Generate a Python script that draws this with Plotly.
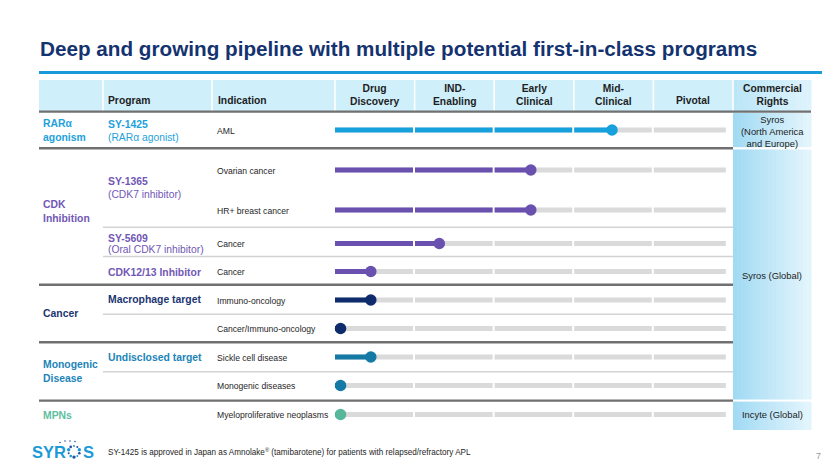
import math
import plotly.graph_objects as go

# ---------------- data ----------------
title = "Deep and growing pipeline with multiple potential first-in-class programs"
header_program = "Program"
header_indication = "Indication"
stage_labels = ["Drug<br>Discovery", "IND-<br>Enabling", "Early<br>Clinical", "Mid-<br>Clinical", "Pivotal"]
header_rights = "Commercial<br>Rights"

group_labels = ["RARα<br>agonism", "CDK<br>Inhibition", "Cancer", "Monogenic<br>Disease", "MPNs"]

program_names = ["SY-1425", "SY-1365", "SY-5609", "CDK12/13 Inhibitor", "Macrophage target", "Undisclosed target"]
program_subtitles = ["(RARα agonist)", "(CDK7 inhibitor)", "(Oral CDK7 inhibitor)", "", "", ""]
program_group = [0, 1, 1, 1, 2, 3]

indications = ["AML", "Ovarian cancer", "HR+ breast cancer", "Cancer", "Cancer",
               "Immuno-oncology", "Cancer/Immuno-oncology", "Sickle cell disease",
               "Monogenic diseases", "Myeloproliferative neoplasms"]
indication_group = [0, 1, 1, 1, 1, 2, 2, 3, 3, 4]
# progress measured in development stages (0 = start of Drug Discovery, 5 = end of Pivotal)
progress = [3.48, 2.46, 2.46, 1.31, 0.45, 0.45, 0.07, 0.45, 0.07, 0.07]

rights = ["Syros<br>(North America<br>and Europe)", "Syros (Global)", "Incyte (Global)"]
footnote = "SY-1425 is approved in Japan as Amnolake<sup>®</sup> (tamibarotene) for patients with relapsed/refractory APL"
page_number = "7"
logo_text = ["SYR", "S"]

# ---------------- styles / layout ----------------
W, H = 830, 467
OFF = 8  # page body margin: the figure is drawn 8px in from the window corner
FONT = "Arial, Liberation Sans, sans-serif"
NAVY = "#14336F"
group_text_colors = ["#1EA1DC", "#7157B6", "#1B3572", "#1C84B8", "#5FBE9F"]
group_bar_colors = ["#16A0DC", "#6B51AF", "#0E2C6B", "#1579A6", "#57B79B"]
TRACK = "#DADADA"

row_y = [130, 170, 210, 243.5, 271.5, 300, 328.5, 357, 385.5, 414.5]
group_y = [130.5, 211, 313, 371.5, 415]
program_name_y = [124, 181.5, 238, 272, 299.5, 357]
program_sub_y = [137, 194.5, 249, None, None, None]
rights_y = [131, 275, 414.5]

STAGE_X0 = 335.0
STAGE_W = 79.6
X2_RANGE = [-0.5, 5.5]
x2_dom = [(STAGE_X0 + X2_RANGE[0] * STAGE_W - OFF) / W, (STAGE_X0 + X2_RANGE[1] * STAGE_W - OFF) / W]

fig = go.Figure()

# ----- progress tracks (gray, segmented by stage) -----
seg_start = [0.0, 1.005, 2.005, 3.005, 4.005]
seg_end = [0.98, 1.98, 2.98, 3.98, 4.91]
tx, ty = [], []
for y in row_y:
    for a, b in zip(seg_start, seg_end):
        tx += [a, b, None]
        ty += [y, y, None]
fig.add_trace(go.Scatter(x=tx, y=ty, xaxis="x2", yaxis="y", mode="lines",
                         line=dict(color=TRACK, width=5), hoverinfo="skip",
                         showlegend=False, cliponaxis=False))

# ----- coloured progress -----
for i, (y, v) in enumerate(zip(row_y, progress)):
    cx, cy = [], []
    for a, b in zip(seg_start, seg_end):
        e = min(b, v)
        if e > a:
            cx += [a, e, None]
            cy += [y, y, None]
    col = group_bar_colors[indication_group[i]]
    if cx:
        fig.add_trace(go.Scatter(x=cx, y=cy, xaxis="x2", yaxis="y", mode="lines",
                                 line=dict(color=col, width=5), hoverinfo="skip",
                                 showlegend=False, cliponaxis=False))
fig.add_trace(go.Scatter(x=progress, y=row_y, xaxis="x2", yaxis="y", mode="markers",
                         marker=dict(size=11.5, color=[group_bar_colors[g] for g in indication_group],
                                     line=dict(width=0)),
                         hoverinfo="skip", showlegend=False, cliponaxis=False))

shapes = []
ann = []

def rect(x0, y0, x1, y1, color, layer="below"):
    shapes.append(dict(type="rect", xref="x", yref="y", x0=x0, y0=y0, x1=x1, y1=y1,
                       fillcolor=color, line=dict(width=0), layer=layer))

def hline(x0, x1, y, color, width):
    shapes.append(dict(type="line", xref="x", yref="y", x0=x0, x1=x1, y0=y, y1=y,
                       line=dict(color=color, width=width), layer="below"))

def vline(x, y0, y1, color, width):
    shapes.append(dict(type="line", xref="x", yref="y", x0=x, x1=x, y0=y0, y1=y1,
                       line=dict(color=color, width=width), layer="below"))

def lerp_hex(c1, c2, t):
    a = [int(c1[i:i + 2], 16) for i in (1, 3, 5)]
    b = [int(c2[i:i + 2], 16) for i in (1, 3, 5)]
    return "#" + "".join("%02X" % round(a[k] + (b[k] - a[k]) * t) for k in range(3))

def gradient(x0, y0, x1, y1, c1, c2, n=20):
    w = (x1 - x0) / n
    for k in range(n):
        rect(x0 + k * w, y0, x0 + (k + 1) * w + 0.6, y1, lerp_hex(c1, c2, k / (n - 1)))

def text(x, y, s, size, color, bold=False, xanchor="left", align="left", xref="x"):
    ann.append(dict(x=x, y=y, xref=xref, yref="y", text=("<b>%s</b>" % s) if bold else s,
                    showarrow=False, xanchor=xanchor, yanchor="middle", align=align,
                    font=dict(family=FONT, size=size, color=color), borderpad=0))

# title + rule
text(38.5, 48.5, title, 20.7, NAVY, bold=True)
hline(39, 840, 72.5, "#1A9AD8", 3.2)

# header band
rect(39, 80, 733, 111, "#CFEFFB")
gradient(733, 80, 811, 111, "#BCE6F8", "#DDF3FC")
for x in [103, 212, 335, 414.6, 494.2, 573.8, 653.4, 733]:
    vline(x, 80, 111, "#FFFFFF", 1.6)

text(107, 100.5, header_program, 10.3, "#1E1E1E", bold=True)
text(217, 100.5, header_indication, 10.3, "#1E1E1E", bold=True)
for i, s in enumerate(stage_labels):
    yy = 94.5 if "<br>" in s else 100.5
    text(i + 0.5, yy, s, 10.3, "#1E1E1E", bold=True, xanchor="center", align="center", xref="x2")
text(772, 94.5, header_rights, 10.3, "#1E1E1E", bold=True, xanchor="center", align="center")

# commercial rights cells
gradient(733, 113, 811, 147.2, "#A2DAF4", "#E3F5FC")
gradient(733, 149.5, 811, 399.5, "#A2DAF4", "#E3F5FC")
gradient(733, 401.6, 811, 430, "#A2DAF4", "#E3F5FC")
for s, y in zip(rights, rights_y):
    text(772, y, s, 9.4, "#222222", xanchor="center", align="center")

# row separators
hline(39, 811, 111.6, "#707070", 2.4)
for y in [148.3, 284.8, 342.3, 400.6]:
    hline(39, 733, y, "#707070", 2.4)
for y in [227.3, 256.5, 314.3, 371.8]:
    hline(103, 733, y, "#D3D3D3", 1.6)

# group labels
for s, y, c in zip(group_labels, group_y, group_text_colors):
    text(42, y, s, 10.4, c, bold=True)

# program labels
for name, sub, g, yn, ys in zip(program_names, program_subtitles, program_group, program_name_y, program_sub_y):
    c = group_text_colors[g]
    text(107, yn, name, 10.4, c, bold=True)
    if sub:
        text(107, ys, sub, 10.3, c)

# indications
for s, y in zip(indications, row_y):
    text(215.5, y + 0.5, s, 8.6, "#262626")

# footer
text(107, 451.5, footnote, 8.15, "#262626")
text(818, 455.5, page_number, 9, "#9A9A9A", xanchor="center", align="center")

# logo
LOGO = "#1C9AD6"
text(31, 451.5, logo_text[0], 16.5, LOGO, bold=True)
text(82, 451.5, logo_text[1], 16.5, LOGO, bold=True)
cxl, cyl, r = 74, 451.5, 5.6
for k in range(10):
    ang = math.pi / 2 + k * 2 * math.pi / 10
    px, py = cxl + r * math.cos(ang), cyl - r * math.sin(ang)
    rr = 1.0 + 0.35 * (k % 3)
    shapes.append(dict(type="circle", xref="x", yref="y", x0=px - rr, x1=px + rr, y0=py - rr, y1=py + rr,
                       fillcolor="#2A4FA0" if k % 2 else LOGO, line=dict(width=0), layer="above"))
for k, (dx, dy) in enumerate([(-14, -9), (-9, -10.5), (-4, -10.5), (1, -10)]):
    rr = 0.8
    shapes.append(dict(type="circle", xref="x", yref="y", x0=cxl + dx - rr, x1=cxl + dx + rr,
                       y0=cyl + dy - rr, y1=cyl + dy + rr, fillcolor="#2A4FA0", line=dict(width=0)))

fig.update_layout(
    width=W, height=H, margin=dict(l=0, r=0, t=0, b=0),
    paper_bgcolor="white", plot_bgcolor="rgba(0,0,0,0)",
    xaxis=dict(range=[OFF, W + OFF], domain=[0, 1], visible=False, fixedrange=True),
    yaxis=dict(range=[H + OFF, OFF], domain=[0, 1], visible=False, fixedrange=True),
    xaxis2=dict(range=X2_RANGE, domain=x2_dom, anchor="y", visible=False, fixedrange=True),
    shapes=shapes, annotations=ann, showlegend=False,
)

fig.write_html("out.html")
